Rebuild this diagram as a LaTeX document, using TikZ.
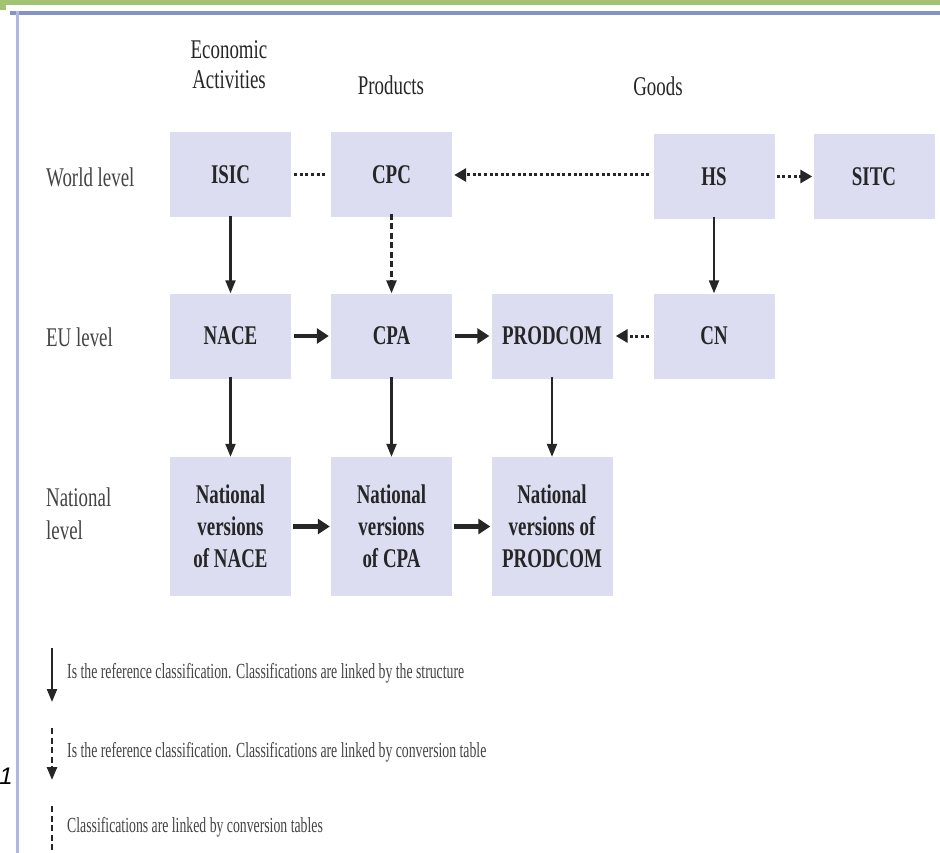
\documentclass[tikz,border=0pt]{standalone}
\usepackage{fontspec}
\setmainfont{Liberation Serif}[FakeStretch=0.7]
\newfontfamily\onefont{Liberation Sans}
\newfontfamily\legfont{Liberation Serif}[FakeStretch=0.64]
\usetikzlibrary{arrows.meta}
\definecolor{boxfill}{HTML}{DCDDF1}
\definecolor{txt}{HTML}{262626}
\definecolor{lbl}{HTML}{444444}
\definecolor{frameblue}{HTML}{8393C8}
\definecolor{frameblue2}{HTML}{AEB8E2}
\definecolor{topgreen}{HTML}{A2C472}
\tikzset{
  cbox/.style={fill=boxfill, draw=none, minimum width=121pt, minimum height=85pt, inner sep=0pt, align=center, text=txt, font=\fontsize{27}{32}\selectfont\bfseries},
  nbox/.style={cbox, minimum height=139pt},
  rowlbl/.style={anchor=west, align=left, text=lbl, inner sep=0pt, font=\fontsize{27}{33}\selectfont},
  colhdr/.style={align=center, text=txt, inner sep=0pt, font=\fontsize{27}{30}\selectfont},
  legtxt/.style={anchor=west, text=lbl, inner sep=0pt, font=\legfont\fontsize{21.5}{24}\selectfont},
  solidarr/.style={draw=txt, line width=2.2pt, -{Triangle[length=13pt,width=10pt]}},
  thickarr/.style={draw=txt, line width=4.5pt, -{Triangle[length=12pt,width=15pt]}},
  dashedarr/.style={draw=txt, line width=2.5pt, dash pattern=on 6pt off 3.5pt, -{Triangle[length=13pt,width=10pt]}},
  dottedline/.style={draw=txt, line width=3pt, dash pattern=on 3pt off 2.6pt},
  dottedarr/.style={dottedline, -{Triangle[length=12pt,width=13pt]}},
}
\begin{document}
\begin{tikzpicture}[x=1pt, y=-1pt]
\useasboundingbox (0,0) rectangle (940,853);
\fill[white] (0,0) rectangle (940,853);
% frame
\fill[topgreen] (0,0) rectangle (940,5);
\fill[topgreen] (0,0) rectangle (6,10);
\fill[frameblue] (10,11) rectangle (940,15);
\fill[frameblue2] (16,11) rectangle (19,853);
\node[font=\onefont\itshape\fontsize{24}{24}\selectfont, text=black, inner sep=0pt] (one) at (6,776) {1};

% headers
\node[colhdr] (hEA) at (229,65) {Economic\\Activities};
\node[colhdr] (hP) at (391,85) {Products};
\node[colhdr] (hG) at (658,86) {Goods};

% row labels
\node[rowlbl] (rW) at (46,177) {World level};
\node[rowlbl] (rE) at (46,337) {EU level};
\node[rowlbl] (rN) at (46,514) {National\\level};

% row 1
\node[cbox] (isic) at (230.5,175) {ISIC};
\node[cbox] (cpc) at (391.5,175) {CPC};
\node[cbox] (hs) at (714,176.5) {HS};
\node[cbox] (sitc) at (874,176.5) {SITC};
% row 2
\node[cbox] (nace) at (230.5,336) {NACE};
\node[cbox] (cpa) at (391.5,336) {CPA};
\node[cbox] (prodcom) at (552,336) {PRODCOM};
\node[cbox] (cn) at (714,336) {CN};
% row 3
\node[nbox] (nnace) at (230.5,526.5) {National\\versions\\of NACE};
\node[nbox] (ncpa) at (391.5,526.5) {National\\versions\\of CPA};
\node[nbox] (nprod) at (552,526.5) {National\\versions of\\PRODCOM};

% connectors row 1
\draw[dottedline] ([xshift=3pt]isic.east) -- ([xshift=-3pt]cpc.west);
\draw[dottedarr] ([xshift=-4pt]hs.west |- cpc.east) -- ([xshift=2pt]cpc.east);
\draw[dottedarr] ([xshift=2pt]hs.east) -- ([xshift=-1pt]sitc.west);
% verticals
\draw[solidarr] ([yshift=2pt]isic.south) -- (nace.north);
\draw[dashedarr] ([yshift=4pt]cpc.south) -- (cpa.north);
\draw[solidarr] ([yshift=2pt]hs.south) -- (cn.north);
\draw[solidarr] ([yshift=2pt]nace.south) -- (nnace.north);
\draw[solidarr] ([yshift=2pt]cpa.south) -- (ncpa.north);
\draw[solidarr] ([yshift=2pt]prodcom.south) -- (nprod.north);
% horizontals row 2
\draw[thickarr] ([xshift=3pt]nace.east) -- ([xshift=-2pt]cpa.west);
\draw[thickarr] ([xshift=3pt]cpa.east) -- ([xshift=-2pt]prodcom.west);
\draw[dottedarr] ([xshift=-4pt]cn.west) -- ([xshift=3pt]prodcom.east);
% horizontals row 3
\draw[thickarr] ([xshift=2pt]nnace.east) -- ([xshift=-1pt]ncpa.west);
\draw[thickarr] ([xshift=2pt]ncpa.east) -- ([xshift=-1pt]nprod.west);

% legend
\coordinate (l1a) at (52,648);
\coordinate (l1b) at (52,702);
\coordinate (l2a) at (52,728);
\coordinate (l2b) at (52,780);
\coordinate (l3a) at (52,806);
\coordinate (l3b) at (52,850);
\draw[solidarr] (l1a) -- (l1b);
\draw[dashedarr] (l2a) -- (l2b);
\draw[draw=txt, line width=2.5pt, dash pattern=on 6pt off 3.5pt] (l3a) -- (l3b);
\node[legtxt] (t1) at (67,673) {Is the reference classification. Classifications are linked by the structure};
\node[legtxt] (t2) at (67,752) {Is the reference classification. Classifications are linked by conversion table};
\node[legtxt] (t3) at (67,827) {Classifications are linked by conversion tables};
\end{tikzpicture}
\end{document}
